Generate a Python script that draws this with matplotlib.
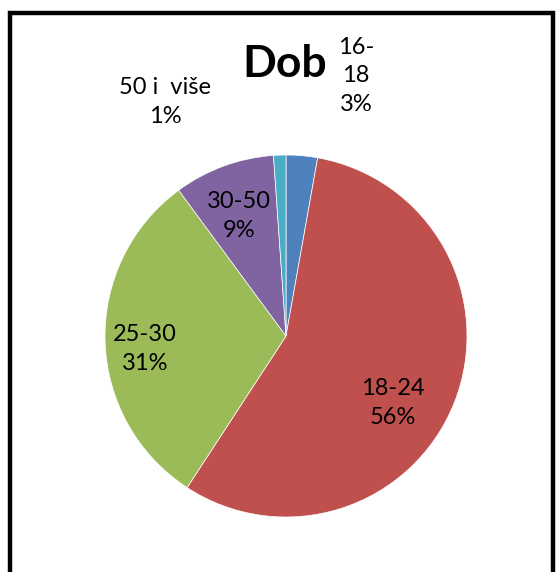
import matplotlib
matplotlib.use("Agg")
import matplotlib.pyplot as plt
from matplotlib.patches import Rectangle

plt.rcParams['font.family'] = ['Lato', 'DejaVu Sans']

# data (percent shares)
categories = ["16-\n18", "18-24", "25-30", "30-50", "50 i  više"]
values = [2.8, 56.4, 30.7, 9.0, 1.1]
pct_labels = ["3%", "56%", "31%", "9%", "1%"]
colors = ["#4F81BD", "#C0504D", "#9BBB59", "#8064A2", "#4BACC6"]

# label centres in pixels from the top-left corner
label_pos = [(356, 76), (393, 403), (145, 349), (239, 216), (165, 102)]

W, H = 558, 572
fig = plt.figure(figsize=(W / 100, H / 100), dpi=100)
ax = fig.add_axes([0, 0, 1, 1])

ax.pie(values, colors=colors, startangle=90, counterclock=False,
       center=(286, H - 336), radius=181,
       wedgeprops=dict(edgecolor="white", linewidth=0.5))
ax.set_xlim(0, W)
ax.set_ylim(0, H)
ax.set_aspect("auto")
ax.axis("off")

for cat, pct, (x, y) in zip(categories, pct_labels, label_pos):
    ax.text(x, H - y, cat + "\n" + pct, ha="center", va="center",
            fontsize=17, linespacing=1.45, color="black")

ax.text(285, H - 64, "Dob", ha="center", va="center",
        fontsize=32, fontweight="bold")

# chart frame (bottom edge is cut off in the original)
ax.add_patch(Rectangle((10, -20), 543, H - 13 + 20, fill=False,
                       edgecolor="black", linewidth=3.2, clip_on=False))

fig.savefig("out.png", dpi=100)
